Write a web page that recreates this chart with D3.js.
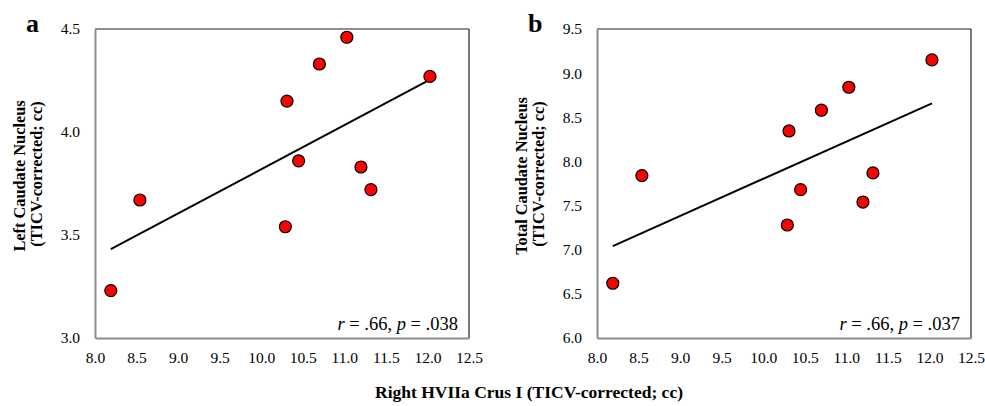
<!DOCTYPE html>
<html>
<head>
<meta charset="utf-8">
<script src="https://cdn.jsdelivr.net/npm/d3@7"></script>
<style>
  body { margin: 0; background: #fff; }
  text { font-family: "Liberation Serif", "Times New Roman", serif; }
</style>
</head>
<body>
<div id="chart-area"></div>
<script>
// Right HVIIa Crus I values (shared x)
const crusI = [8.19, 8.54, 10.29, 10.31, 10.45, 10.70, 11.03, 11.20, 11.32, 12.03];
// Left caudate nucleus
const leftCaudate = [3.23, 3.67, 3.54, 4.15, 3.86, 4.33, 4.46, 3.83, 3.72, 4.27];
// Total caudate nucleus
const totalCaudate = [6.62, 7.84, 7.28, 8.345, 7.68, 8.58, 8.84, 7.54, 7.87, 9.15];

const xTicks = [8.0, 8.5, 9.0, 9.5, 10.0, 10.5, 11.0, 11.5, 12.0, 12.5];
const yTicksA = [3.0, 3.5, 4.0, 4.5];
const yTicksB = [6.0, 6.5, 7.0, 7.5, 8.0, 8.5, 9.0, 9.5];

const panels = [
    { letter: "a", left: 95, ys: leftCaudate, yTicks: yTicksA, domain: [3.0, 4.5],
      label1: "Left Caudate Nucleus", stats: ".038" },
    { letter: "b", left: 597, ys: totalCaudate, yTicks: yTicksB, domain: [6.0, 9.5],
      label1: "Total Caudate Nucleus", stats: ".037" }
];

const svg = d3.select("#chart-area").append("svg")
    .attr("width", 985)
    .attr("height", 406)
    .style("font-family", "'Liberation Serif', serif");

const plotTop = 29, plotBottom = 338, plotW = 374;

panels.forEach((p) => {
    const x = d3.scaleLinear().domain([8.0, 12.5]).range([p.left, p.left + plotW]);
    const y = d3.scaleLinear().domain(p.domain).range([plotBottom, plotTop]);

    const g = svg.append("g");

    // frame: top/right dark, left/bottom gray axes
    g.append("line").attr("x1", x(8)).attr("x2", x(12.5)).attr("y1", plotTop).attr("y2", plotTop)
        .attr("stroke", "#222").attr("stroke-width", 1.2);
    g.append("line").attr("x1", x(12.5)).attr("x2", x(12.5)).attr("y1", plotTop).attr("y2", plotBottom)
        .attr("stroke", "#222").attr("stroke-width", 1.2);

    const yAxis = d3.axisLeft(y).tickValues(p.yTicks).tickFormat(d3.format(".1f")).tickSize(0).tickPadding(15);
    const ya = g.append("g").attr("transform", `translate(${x(8)},0)`).call(yAxis);
    ya.select(".domain").attr("stroke", "#8c8c8c").attr("stroke-width", 2);
    ya.selectAll("text").attr("fill", "#000")
        .style("font-family", "'Liberation Serif', serif").style("font-size", "15.5px");

    const xAxis = d3.axisBottom(x).tickValues(xTicks).tickFormat(d3.format(".1f")).tickSize(0).tickPadding(14);
    const xa = g.append("g").attr("transform", `translate(0,${plotBottom})`).call(xAxis);
    xa.select(".domain").attr("stroke", "#8c8c8c").attr("stroke-width", 2);
    xa.selectAll("text").attr("fill", "#000")
        .style("font-family", "'Liberation Serif', serif").style("font-size", "15.5px");

    // regression line
    const mx = d3.mean(crusI), my = d3.mean(p.ys);
    const sxy = d3.sum(crusI, (d, i) => (d - mx) * (p.ys[i] - my));
    const sxx = d3.sum(crusI, (d) => (d - mx) * (d - mx));
    const slope = sxy / sxx, icpt = my - slope * mx;
    const x0 = d3.min(crusI), x1 = d3.max(crusI);
    g.append("line")
        .attr("x1", x(x0)).attr("y1", y(icpt + slope * x0))
        .attr("x2", x(x1)).attr("y2", y(icpt + slope * x1))
        .attr("stroke", "#000").attr("stroke-width", 2);

    // points
    g.selectAll("circle")
        .data(crusI)
        .enter()
        .append("circle")
        .attr("cx", (d) => x(d))
        .attr("cy", (d, i) => y(p.ys[i]))
        .attr("r", 6)
        .attr("fill", "#ff0000")
        .attr("stroke", "#000")
        .attr("stroke-width", 1.2);

    // stats
    const st = g.append("text")
        .attr("x", x(12.5) - 11).attr("y", 330)
        .attr("text-anchor", "end").attr("font-size", 18.5).attr("fill", "#000");
    st.append("tspan").attr("font-style", "italic").text("r");
    st.append("tspan").text(" = .66, ");
    st.append("tspan").attr("font-style", "italic").text("p");
    st.append("tspan").text(" = " + p.stats);

    // panel letter
    g.append("text").attr("x", p.left - 69).attr("y", 32)
        .attr("font-size", 26).attr("font-weight", "bold").text(p.letter);

    // y label
    const cy = 176;
    g.append("text")
        .attr("transform", `translate(${p.left - 70},${cy}) rotate(-90)`)
        .attr("text-anchor", "middle").attr("font-size", 16.3).attr("font-weight", "bold")
        .text(p.label1);
    g.append("text")
        .attr("transform", `translate(${p.left - 53},${cy - 2}) rotate(-90)`)
        .attr("text-anchor", "middle").attr("font-size", 16.3).attr("font-weight", "bold")
        .text("(TICV-corrected; cc)");
});

svg.append("text")
    .attr("x", 529).attr("y", 398)
    .attr("text-anchor", "middle").attr("font-size", 17.5).attr("font-weight", "bold")
    .text("Right HVIIa Crus I (TICV-corrected; cc)");
</script>
</body>
</html>
